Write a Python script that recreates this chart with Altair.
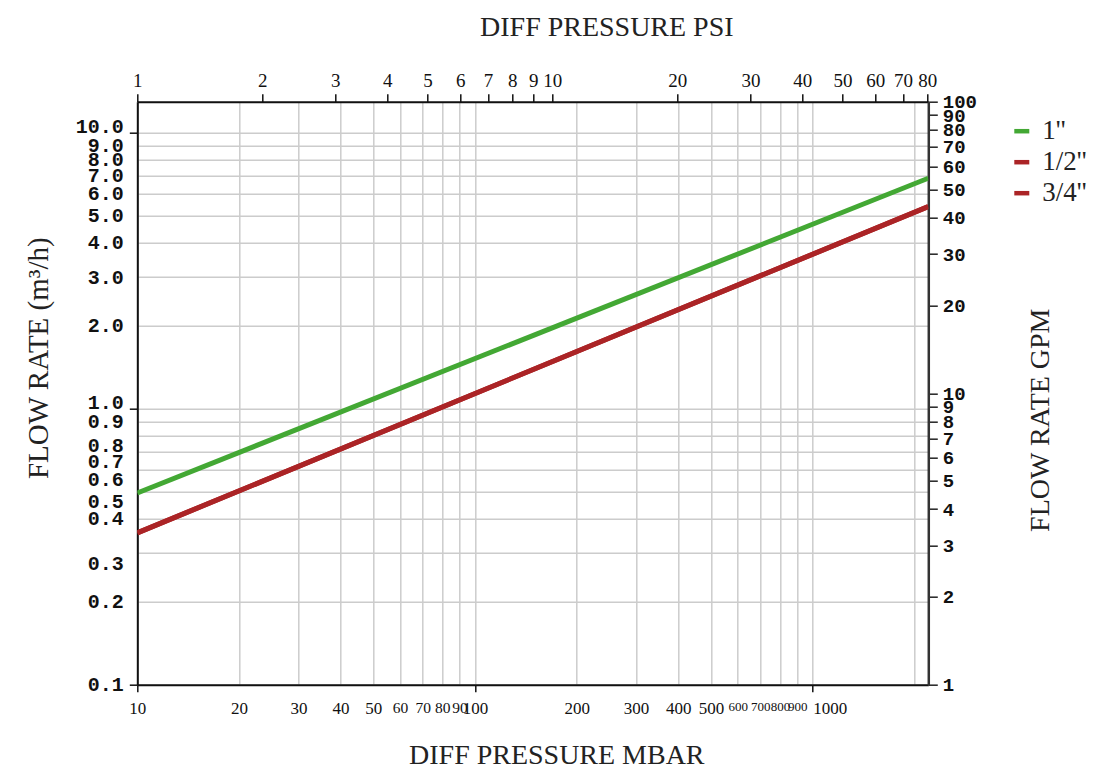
import altair as alt
import pandas as pd

# ---- data ----
series = ["1''", "1/2''", "3/4''"]
colors = ["#43a834", "#ab2426", "#ab2426"]
mbar = [10, 2200]
flow_1in = [0.495, 6.84]
flow_half = [0.355, 5.40]
flow_34 = [0.355, 5.40]

mbar_ticks = [10, 20, 30, 40, 50, 60, 70, 80, 90, 100,
              200, 300, 400, 500, 600, 700, 800, 900, 1000, 2000]
psi_ticks = [1, 2, 3, 4, 5, 6, 7, 8, 9, 10, 20, 30, 40, 50, 60, 70, 80]
m3h_ticks = [0.1, 0.2, 0.3, 0.4, 0.5, 0.6, 0.7, 0.8, 0.9,
             1, 2, 3, 4, 5, 6, 7, 8, 9, 10]
gpm_ticks = [1, 2, 3, 4, 5, 6, 7, 8, 9, 10, 20, 30, 40, 50, 60, 70, 80, 90, 100]
psi_range = [1, 80.5]
gpm_range = [1, 100]

df = pd.DataFrame({
    "mbar": mbar * 3,
    "flow": flow_1in + flow_half + flow_34,
    "size": [s for s in series for _ in mbar],
})
df2 = pd.DataFrame({"psi": psi_range, "gpm": gpm_range})

TITLE_FONT = "Liberation Serif"
NUM_FONT = "Liberation Mono"

lines = alt.Chart(df).mark_line(strokeWidth=5, clip=True).encode(
    x=alt.X(
        "mbar:Q",
        scale=alt.Scale(type="log", domain=[10, 2200], nice=False),
        axis=alt.Axis(
            orient="bottom", values=mbar_ticks, format="d",
            labelExpr="datum.value >= 2000 ? '' : datum.label",
            labelFont=TITLE_FONT,
            labelFontSize={"condition": [
                {"test": "datum.value>=600 && datum.value<=900", "value": 13},
                {"test": "datum.value>=60 && datum.value<=90", "value": 15.5}], "value": 17},
            labelAlign={"condition": {"test": "datum.value==1000", "value": "left"}, "value": "center"},
            labelColor="#111", labelPadding=9, labelOverlap=False, labelFlush=False,
            tickSize=7, tickWidth=1.5, tickColor="#111",
            tickOpacity={"condition": {"test": "datum.value==10 || datum.value==100 || datum.value==1000", "value": 1}, "value": 0},
            domainColor="#111", domainWidth=2,
            grid=True, gridColor="#cccccc", gridWidth=1.5,
            title="DIFF PRESSURE MBAR", titleFont=TITLE_FONT, titleFontSize=28,
            titleFontWeight="normal", titleColor="#222",
            titleX=419, titleY=71, titleAlign="center", titleBaseline="middle",
        ),
    ),
    y=alt.Y(
        "flow:Q",
        scale=alt.Scale(type="log", domain=[0.1, 12.95], nice=False),
        axis=alt.Axis(
            orient="left", values=m3h_ticks, format=".1f",
            labelFont=NUM_FONT, labelFontSize=20, labelFontWeight="bold",
            labelColor="#111",
            labelPadding=6, labelOverlap=False, labelFlush=False,
            labelBaseline={"condition": [
                {"test": "datum.value==10 || datum.value==1", "value": "alphabetic"},
                {"test": "datum.value==0.8 || datum.value==0.7 || datum.value==0.6 || datum.value==0.5 || datum.value==0.3", "value": "top"},
            ], "value": "middle"},
            tickSize=8, tickWidth=1.5, tickColor="#111",
            tickOpacity={"condition": {"test": "datum.value==0.1 || datum.value==1 || datum.value==10", "value": 1}, "value": 0},
            domainColor="#111", domainWidth=2,
            grid=True, gridColor="#cccccc", gridWidth=1.5,
            title="FLOW RATE (m³/h)", titleFont=TITLE_FONT, titleFontSize=29,
            titleFontWeight="normal", titleColor="#222", titleAngle=270,
            titleX=-99, titleY=256, titleAlign="center", titleBaseline="middle",
        ),
    ),
    color=alt.Color(
        "size:N",
        scale=alt.Scale(domain=series, range=colors),
        legend=alt.Legend(
            orient="none", legendX=871, legendY=16, title=None,
            symbolType="stroke", symbolSize=225, symbolStrokeWidth=4.5,
            labelFont=TITLE_FONT, labelFontSize=27, labelColor="#222",
            labelOffset=7, rowPadding=3, padding=0,
        ),
    ),
)

secondary = alt.Chart(df2).mark_point(opacity=0).encode(
    x=alt.X(
        "psi:Q",
        scale=alt.Scale(type="log", domain=psi_range, nice=False),
        axis=alt.Axis(
            orient="top", values=psi_ticks, format="d",
            labelFont=TITLE_FONT, labelFontSize=19, labelColor="#111",
            labelPadding=3, labelOverlap=False, labelFlush=False,
            tickSize=8, tickWidth=1.5, tickColor="#111",
            domainColor="#111", domainWidth=2, grid=False,
            title="DIFF PRESSURE PSI", titleFont=TITLE_FONT, titleFontSize=28,
            titleFontWeight="normal", titleColor="#222",
            titleX=469, titleY=-74, titleAlign="center", titleBaseline="middle",
        ),
    ),
    y=alt.Y(
        "gpm:Q",
        scale=alt.Scale(type="log", domain=gpm_range, nice=False),
        axis=alt.Axis(
            orient="right", values=gpm_ticks, format="d",
            labelFont=NUM_FONT, labelFontSize=19, labelFontWeight="bold",
            labelColor="#111",
            labelPadding=5, labelOverlap=False, labelFlush=False,
            tickSize=9, tickWidth=1.5, tickColor="#222",
            domainColor="#333", domainWidth=2.5, grid=False,
            title="FLOW RATE GPM", titleFont=TITLE_FONT, titleFontSize=28,
            titleFontWeight="normal", titleColor="#222", titleAngle=270,
            titleX=112, titleY=318, titleAlign="center", titleBaseline="middle",
        ),
    ),
)

chart = alt.layer(lines, secondary).resolve_scale(
    x="independent", y="independent", color="independent"
).properties(
    width=791, height=583,
    padding={"left": 129.3, "top": 93.7, "right": 161, "bottom": 85},
    autosize=alt.AutoSizeParams(type="none"),
).configure_view(stroke=None).configure(background="white")

chart.save("out.html", embed_options={"renderer": "svg", "actions": False})
